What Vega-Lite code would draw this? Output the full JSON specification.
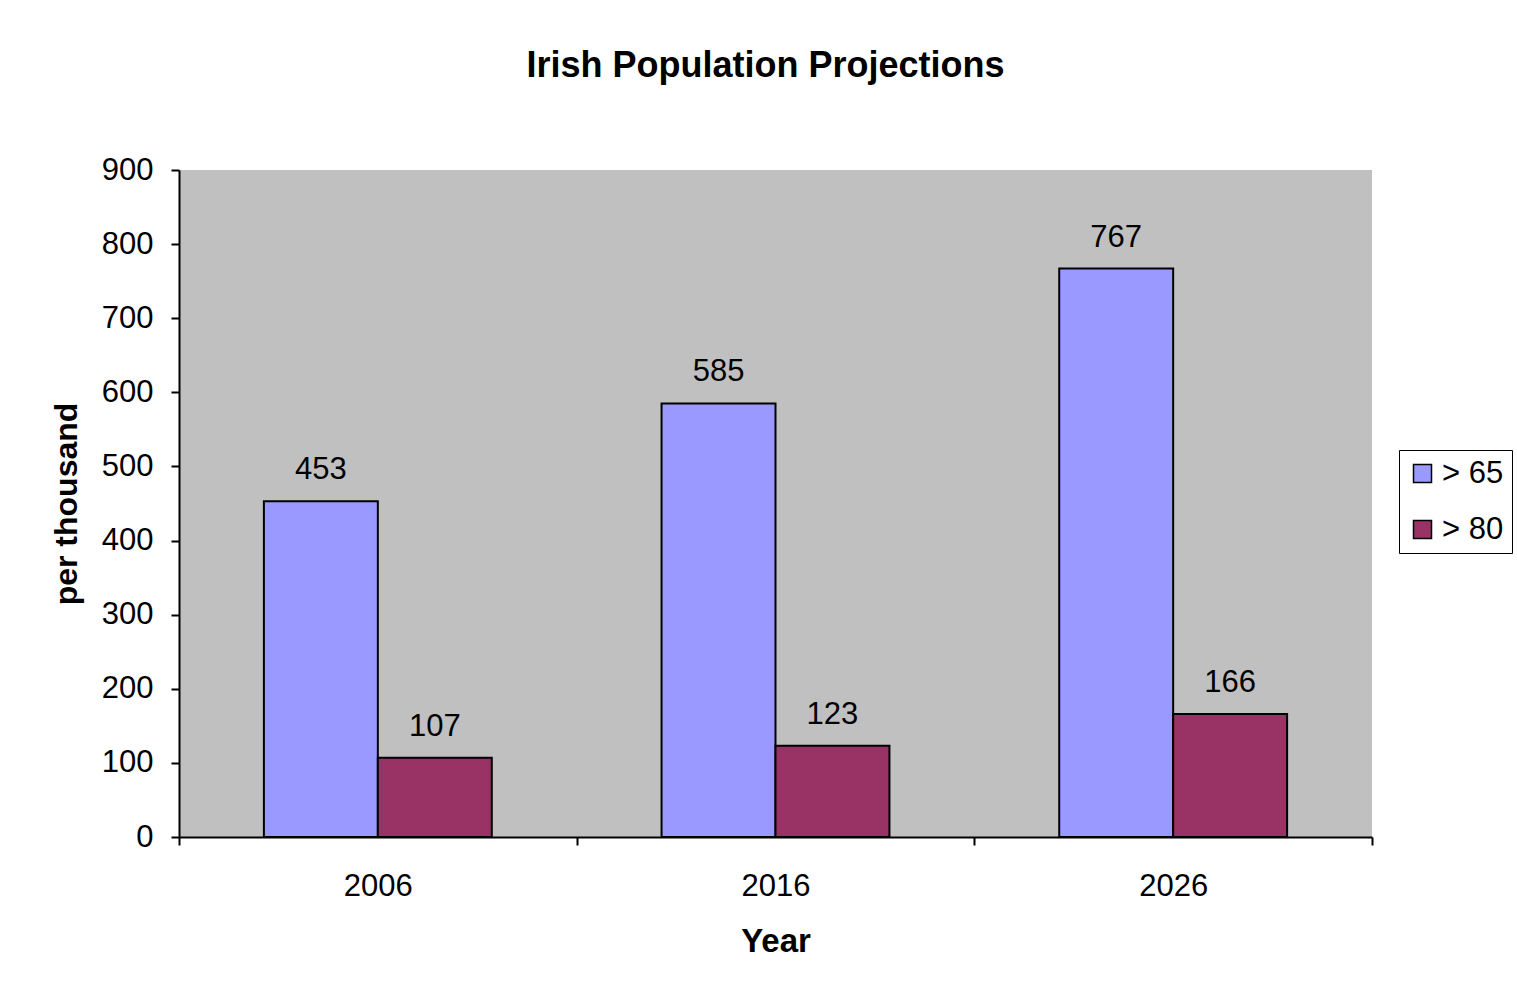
{
  "$schema": "https://vega.github.io/schema/vega-lite/v6.json",
  "width": 1193,
  "height": 667,
  "autosize": {"type": "none"},
  "padding": {"left": 179, "top": 170, "right": 145, "bottom": 156},
  "background": "white",
  "title": {
    "text": "Irish Population Projections",
    "fontSize": 36,
    "font": "Liberation Sans",
    "fontWeight": "bold",
    "color": "black",
    "anchor": "middle",
    "dx": -10,
    "offset": 69
  },
  "config": {
    "font": "Liberation Sans",
    "view": {"fill": "#C0C0C0", "stroke": null},
    "axis": {
      "domainColor": "black",
      "domainWidth": 2,
      "tickColor": "black",
      "tickWidth": 2,
      "tickSize": 8,
      "labelColor": "black",
      "labelFontSize": 31,
      "labelFont": "Liberation Sans",
      "titleColor": "black",
      "titleFont": "Liberation Sans",
      "titleFontWeight": "bold",
      "grid": false
    }
  },
  "data": {
    "values": [
      {"year": "2006", "group": "> 65", "value": 453},
      {"year": "2006", "group": "> 80", "value": 107},
      {"year": "2016", "group": "> 65", "value": 585},
      {"year": "2016", "group": "> 80", "value": 123},
      {"year": "2026", "group": "> 65", "value": 767},
      {"year": "2026", "group": "> 80", "value": 166}
    ]
  },
  "encoding": {
    "x": {
      "field": "year",
      "type": "nominal",
      "scale": {"paddingInner": 0, "paddingOuter": 0},
      "axis": {
        "title": "Year",
        "titleFontSize": 33,
        "titlePadding": 24,
        "labelAngle": 0,
        "labelPadding": 26,
        "tickBand": "extent"
      }
    },
    "xOffset": {
      "field": "group",
      "type": "nominal",
      "scale": {"paddingInner": 0, "paddingOuter": 0.745}
    },
    "y": {
      "field": "value",
      "type": "quantitative",
      "scale": {"domain": [0, 900], "nice": false},
      "axis": {
        "title": "per thousand",
        "titleFontSize": 32,
        "titlePadding": 18,
        "values": [0, 100, 200, 300, 400, 500, 600, 700, 800, 900],
        "labelPadding": 18
      }
    }
  },
  "layer": [
    {
      "mark": {"type": "bar", "stroke": "black", "strokeWidth": 2},
      "encoding": {
        "color": {
          "field": "group",
          "type": "nominal",
          "scale": {"domain": ["> 65", "> 80"], "range": ["#9999FF", "#993366"]},
          "legend": {
            "title": null,
            "orient": "none",
            "legendX": 1220,
            "legendY": 280,
            "strokeColor": "black",
            "fillColor": "white",
            "padding": 8,
            "symbolType": "square",
            "symbolSize": 324,
            "symbolStrokeColor": "black",
            "symbolStrokeWidth": 1.5,
            "labelFontSize": 31,
            "labelColor": "black",
            "labelFont": "Liberation Sans",
            "rowPadding": 24,
            "labelOffset": 4
          }
        }
      }
    },
    {
      "mark": {"type": "text", "baseline": "bottom", "dy": -15, "fontSize": 31, "color": "black"},
      "encoding": {
        "text": {"field": "value", "type": "quantitative"}
      }
    }
  ]
}
